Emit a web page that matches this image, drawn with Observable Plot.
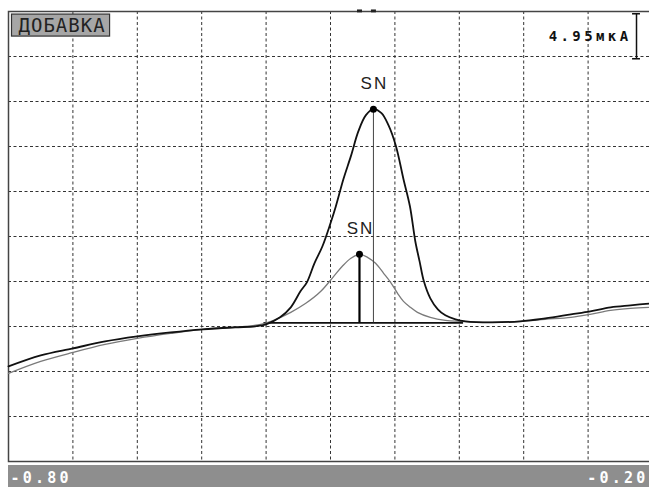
<!DOCTYPE html>
<html><head><meta charset="utf-8">
<script src="https://cdn.jsdelivr.net/npm/d3@7"></script>
<script src="https://cdn.jsdelivr.net/npm/@observablehq/plot@0.6"></script>
<style>
body{margin:0;background:#fff}
#chart svg{display:block}
g[aria-label="x-axis tick label"] text{letter-spacing:3.2px}
</style></head>
<body><div id="chart"></div>
<script>
// Potential (V) and current (µA) of the black (higher) curve
const blackV = [-0.800,-0.770,-0.740,-0.710,-0.680,-0.649,-0.619,-0.589,-0.570,-0.560,-0.547,-0.537,-0.528,-0.522,-0.515,-0.5075,-0.500,-0.495,-0.488,-0.481,-0.474,-0.467,-0.460,-0.4525,-0.446,-0.439,-0.432,-0.426,-0.421,-0.417,-0.413,-0.407,-0.400,-0.393,-0.3835,-0.374,-0.351,-0.323,-0.300,-0.276,-0.258,-0.239,-0.2205,-0.200];
const blackI = [10.46,11.67,12.44,13.21,13.76,14.20,14.54,14.76,14.87,15.09,15.86,16.96,18.72,19.71,21.80,23.68,26.21,28.08,31.05,33.59,36.34,38.10,38.76,38.32,37.00,34.69,31.05,28.08,24.23,22.02,19.82,17.95,16.74,16.08,15.64,15.42,15.31,15.42,15.75,16.19,16.52,16.96,17.18,17.40];
// Potential (V) and current (µA) of the grey (lower) curve
const greyV = [-0.800,-0.770,-0.740,-0.710,-0.680,-0.649,-0.619,-0.589,-0.565,-0.551,-0.537,-0.523,-0.509,-0.497,-0.489,-0.481,-0.473,-0.4655,-0.458,-0.4505,-0.444,-0.4375,-0.432,-0.4255,-0.419,-0.407,-0.393,-0.379,-0.351,-0.323,-0.300,-0.276,-0.258,-0.239,-0.2205,-0.200];
const greyI = [9.69,11.01,12.00,12.88,13.54,14.09,14.54,14.76,15.09,15.64,16.41,17.40,18.72,20.37,21.47,22.35,22.79,22.46,21.80,20.70,19.71,18.50,17.62,16.96,16.41,15.86,15.53,15.42,15.31,15.42,15.64,15.86,16.19,16.63,16.85,16.96];
// Peaks
const peakV = [-0.473, -0.460];
const peakI = [22.79, 38.76];
const peakLabel = ["SN", "SN"];
const peakBase = 15.25;
const baseFrom = -0.562, baseTo = -0.376;
// Axis / grid
const xDomain = [-0.80, -0.20];
const yDomain = [0, 49.5];
const xGrid = [-0.74,-0.68,-0.62,-0.56,-0.50,-0.44,-0.38,-0.32,-0.26];
const yGrid = [4.95,9.90,14.85,19.80,24.75,29.70,34.65,39.60,44.55];
const xTickLabels = [-0.80, -0.20];
const titleText = "ДОБАВКА";
const scaleValue = 4.95;
const scaleText = "4.95мкА";
const scaleV = -0.2149;

const black = blackV.map((v, i) => ({v, i: blackI[i]}));
const grey = greyV.map((v, i) => ({v, i: greyI[i]}));
const peaks = peakV.map((v, k) => ({v, i: peakI[k], label: peakLabel[k]}));
const fmt = d => d.toFixed(2);
const mono = "DejaVu Sans Mono, monospace";
const scaleTop = 49.25;

const svg = Plot.plot({
  width: 649, height: 487,
  marginLeft: 8, marginRight: -3, marginTop: 11, marginBottom: 26,
  x: {domain: xDomain, label: null},
  y: {domain: yDomain, axis: null},
  style: {background: "transparent", overflow: "hidden"},
  marks: [
    Plot.gridX(xGrid, {stroke: "#333", strokeOpacity: 1, strokeDasharray: "3,2.5"}),
    Plot.gridY(yGrid, {stroke: "#333", strokeOpacity: 1, strokeDasharray: "3,2.5"}),
    Plot.frame({stroke: "#444", strokeWidth: 1.5}),
    Plot.ruleY([peakBase], {x1: baseFrom, x2: baseTo, stroke: "#111", strokeWidth: 1.6}),
    Plot.line(grey, {x: "v", y: "i", stroke: "#7a7a7a", strokeWidth: 1.3, curve: "catmull-rom"}),
    Plot.line(black, {x: "v", y: "i", stroke: "#111", strokeWidth: 1.8, curve: "catmull-rom"}),
    Plot.ruleX([peaks[1]], {x: "v", y1: peakBase, y2: "i", stroke: "#444", strokeWidth: 1}),
    Plot.ruleX([peaks[0]], {x: "v", y1: peakBase, y2: "i", stroke: "#000", strokeWidth: 2.2}),
    Plot.dot(peaks, {x: "v", y: "i", r: 3.5, fill: "#000", stroke: "none"}),
    Plot.text(peaks, {x: "v", y: "i", text: "label", dy: -26, dx: 1, fontFamily: "Liberation Sans, sans-serif", fontSize: 17, fill: "#222"}),
    Plot.ruleX(peaks, {x: "v", y1: 49.67, y2: 49.35, stroke: "#222", strokeWidth: 5}),
    // scale bar
    Plot.ruleX([scaleV], {x: d => d, y1: scaleTop, y2: scaleTop - scaleValue, stroke: "#111", strokeWidth: 1.5}),
    Plot.ruleY([scaleTop, scaleTop - scaleValue], {y: d => d, x1: scaleV - 0.0037, x2: scaleV + 0.0037, stroke: "#111", strokeWidth: 1.5}),
    Plot.text([scaleText], {frameAnchor: "top-right", dx: -21, dy: 25, lineAnchor: "middle", textAnchor: "end", fontFamily: mono, fontWeight: "bold", fontSize: 14, fill: "#111"}),
    Plot.text([titleText], {frameAnchor: "top-left", dx: 10, dy: 14.5, lineAnchor: "middle", textAnchor: "start", fontFamily: mono, fontSize: 19, fill: "#222"}),
    Plot.axisX([xTickLabels[0]], {tickSize: 0, tickPadding: 11, tickFormat: fmt, textAnchor: "start", dx: 2, fill: "#fff", fontFamily: mono, fontWeight: "bold", fontSize: 15, label: null}),
    Plot.axisX([xTickLabels[1]], {tickSize: 0, tickPadding: 11, tickFormat: fmt, textAnchor: "end", dx: -4, fill: "#fff", fontFamily: mono, fontWeight: "bold", fontSize: 15, label: null})
  ]
});
document.getElementById("chart").append(svg);
const s = d3.select(svg);
const byText = str => s.selectAll("text").filter(function() { return this.textContent === str; });
byText(titleText).style("letter-spacing", "1px");
byText(scaleText).style("letter-spacing", "3.4px");
byText("SN").style("letter-spacing", "2px");
// bottom grey bar behind tick labels
s.insert("rect", ":first-child").attr("x", 8).attr("y", 465).attr("width", 641).attr("height", 22).attr("fill", "#8e8e8e");
s.insert("rect", ":first-child").attr("x", 0).attr("y", 0).attr("width", 649).attr("height", 487).attr("fill", "#fff");
// title box
const tNode = byText(titleText).node();
if (tNode) {
  const bb = tNode.getBBox();
  d3.select(tNode.parentNode).insert("rect", ":first-child")
    .attr("transform", tNode.getAttribute("transform"))
    .attr("x", bb.x - 7).attr("y", bb.y).attr("width", bb.width + 11).attr("height", bb.height)
    .attr("fill", "#a6a6a6").attr("stroke", "#333").attr("stroke-width", 1.2);
}
</script></body></html>
